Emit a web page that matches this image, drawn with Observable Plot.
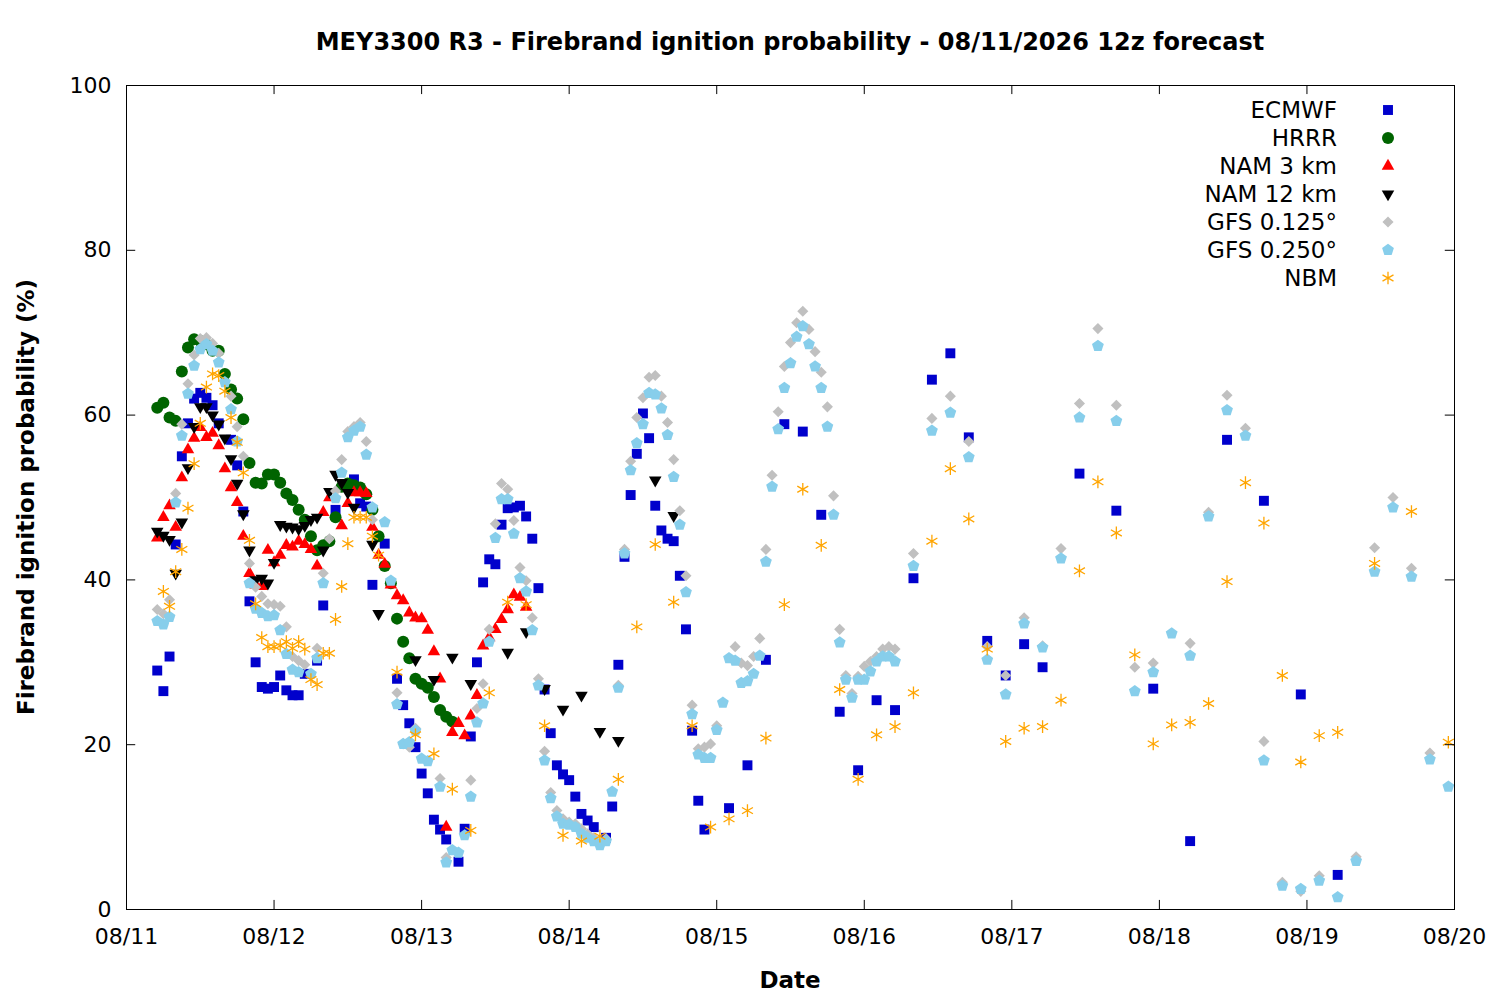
<!DOCTYPE html>
<html><head><meta charset="utf-8">
<script src="https://cdn.jsdelivr.net/npm/d3@7"></script>
<script src="https://cdn.jsdelivr.net/npm/@observablehq/plot@0.6"></script>
<style>
body{margin:0;background:#fff;font-family:"DejaVu Sans",sans-serif;}
#title{position:absolute;left:0;top:28px;width:1580px;text-align:center;font-weight:bold;font-size:24px;}
#chart{position:absolute;left:0;top:60px;}
</style></head><body>
<div id="title">MEY3300 R3 - Firebrand ignition probability - 08/11/2026 12z forecast</div>
<div id="chart"></div>
<script>
// hours after 08/11 00z, value (%)
const ECMWF = [[5,29],[6,26.5],[7,30.7],[8,44.3],[9,55],[10,59],[11,62],[12,62.7],[13,62.1],[14,61.2],[15,59],[17,57],[18,53.9],[19,48.3],[20,37.4],[21,30],[22,27],[23,26.8],[24,27],[25,28.4],[26,26.6],[27,26],[28,26],[29,28.6],[31,30.2],[32,36.9],[34,48.5],[37,52.2],[38,49.3],[39,48.9],[40,39.4],[42,44.4],[44,28],[45,24.8],[46,22.6],[47,19.7],[48,16.5],[49,14.1],[50,10.9],[51,9.7],[52,8.5],[54,5.8],[55,9.8],[56,21],[57,30],[58,39.7],[59,42.5],[60,41.9],[61,46.7],[62,48.7],[63,48.8],[64,49],[65,47.7],[66,45],[67,39],[68,26.7],[69,21.4],[70,17.5],[71,16.4],[72,15.7],[73,13.7],[74,11.6],[75,10.8],[76,10],[78,8.7],[79,12.5],[80,29.7],[81,42.8],[82,50.3],[83,55.3],[84,60.2],[85,57.2],[86,49],[87,46],[88,45],[89,44.7],[90,40.5],[91,34],[92,21.7],[93,13.2],[94,9.7],[98,12.3],[101,17.5],[104,30.3],[107,58.9],[110,58],[113,47.9],[116,24],[119,16.9],[122,25.4],[125,24.2],[128,40.2],[131,64.3],[134,67.5],[137,57.3],[140,32.6],[143,28.4],[146,32.2],[149,29.4],[155,52.9],[161,48.4],[167,26.8],[173,8.3],[179,57],[185,49.6],[191,26.1],[197,4.2]];
const HRRR = [[5,60.9],[6,61.5],[7,59.7],[8,59.3],[9,65.3],[10,68.2],[11,69.2],[12,69],[13,68.6],[14,67.8],[15,67.8],[16,65],[17,63.1],[18,62],[19,59.5],[20,54.2],[21,51.8],[22,51.7],[23,52.8],[24,52.8],[25,51.8],[26,50.5],[27,49.7],[28,48.5],[29,47.3],[30,45.3],[31,43.6],[32,44.2],[33,44.7],[34,47.6],[35,51.3],[36,51.7],[37,51.5],[38,51.2],[39,50.4],[40,48.5],[41,45.3],[42,41.7],[43,39.6],[44,35.3],[45,32.5],[46,30.5],[47,28],[48,27.4],[49,26.9],[50,25.8],[51,24.2],[52,23.4],[53,22.8]];
const NAM3 = [[5,45.1],[6,47.6],[7,49],[8,46.4],[9,52.4],[10,55.8],[11,57.2],[12,58.5],[13,57.3],[14,57.8],[15,56.3],[16,53.5],[17,51.2],[18,49.4],[19,45.3],[20,40.8],[21,39.4],[22,39.2],[23,43.6],[24,42.1],[25,43],[26,44.2],[27,44],[28,44.7],[29,44.3],[30,43.7],[31,41.7],[32,48.2],[33,50],[35,46.6],[36,49.3],[37,50.6],[38,50.6],[39,50.5],[40,46.4],[41,43],[42,41.9],[43,39.4],[44,38.1],[45,37.5],[46,36],[47,35.4],[48,35.3],[49,33.9],[50,31.3],[51,28],[52,10],[53,21.5],[54,22.6],[55,21.1],[56,23.5],[57,26],[58,32],[59,33],[60,34],[61,35.2],[62,36.4],[63,38.2],[64,37.9],[65,36.7]];
const NAM12 = [[5,45.9],[6,45.4],[7,44.9],[8,40.8],[9,47],[10,53.6],[11,58.6],[12,61],[13,61],[14,60],[15,58.9],[16,57.2],[17,54.7],[18,51.7],[19,48],[20,43.6],[21,40],[22,40.2],[23,39.6],[24,42.1],[25,46.7],[26,46.5],[27,46.4],[28,46.2],[29,46.6],[30,47.3],[31,47.6],[32,43.6],[33,50.7],[34,52.8],[35,51.8],[36,50.6],[37,48.8],[40,44.3],[41,35.9],[47,30.3],[50,27.9],[53,30.6],[56,27.4],[62,31.2],[65,33.7],[68,26.8],[71,24.3],[74,26],[77,21.6],[80,20.5],[86,52.1],[89,47.8]];
const GFS0125 = [[5,36.4],[6,35.9],[7,37.6],[8,50.5],[9,58.9],[10,63.8],[11,67.3],[12,69.3],[13,69.4],[14,68.7],[15,67.5],[17,62.3],[18,58.6],[19,55],[20,42],[21,39.1],[22,38],[23,37.1],[24,37],[25,36.8],[26,34.3],[27,30.7],[28,30.2],[29,29.7],[31,31.7],[32,40.8],[33,45],[34,50.8],[35,54.6],[36,58],[37,58.6],[38,59.1],[39,56.8],[40,47.3],[44,26.3],[45,20.1],[46,19.7],[47,22],[51,15.9],[52,6.3],[56,15.7],[57,24.4],[58,27.4],[59,34],[60,46.8],[61,51.7],[62,51],[63,47.2],[64,41.5],[65,39.9],[66,35.4],[67,28],[68,19.2],[69,14.2],[70,12],[71,11],[72,10.6],[73,10.4],[74,9.8],[75,9.2],[76,8.7],[77,8],[78,8.6],[80,27.2],[81,43.7],[82,54.4],[83,59.7],[84,62.1],[85,64.6],[86,64.8],[87,62.3],[88,59.1],[89,54.6],[90,48.4],[91,40.5],[92,24.8],[93,19.5],[94,19.7],[95,20.1],[96,22.3],[99,31.9],[100,29.9],[101,29.6],[102,30.7],[103,32.9],[104,43.7],[105,52.7],[106,60.4],[107,65.9],[108,68.8],[109,71.2],[110,72.6],[111,70.4],[112,67.7],[113,65.2],[114,61],[115,50.2],[116,34],[117,28.4],[118,26.2],[119,28.3],[120,29.5],[121,30.1],[122,30.7],[123,31.6],[124,31.9],[125,31.6],[128,43.2],[131,59.6],[134,62.3],[137,56.8],[140,31.9],[143,28.4],[146,35.4],[149,32],[152,43.8],[155,61.4],[158,70.5],[161,61.2],[164,29.4],[167,29.9],[173,32.3],[176,48.2],[179,62.4],[182,58.4],[185,20.4],[188,3.3],[191,2.2],[194,4.1],[200,6.4],[203,43.9],[206,50],[209,41.4],[212,19]];
const GFS0250 = [[5,35],[6,34.6],[7,35.5],[8,49.4],[9,57.5],[10,62.6],[11,66],[12,68],[13,68.6],[14,67.8],[15,66.4],[16,64],[17,60.7],[18,56.8],[20,39.6],[21,36.5],[22,36],[23,35.6],[24,35.7],[25,33.9],[26,31],[27,29.1],[28,28.8],[30,28.6],[31,30.5],[32,39.6],[34,49.9],[35,53],[36,57.3],[37,58.1],[38,58.6],[39,55.2],[40,48.8],[42,47],[43,39.9],[44,24.9],[45,20.1],[46,20.3],[47,21.7],[48,18.3],[49,18],[51,14.9],[52,5.7],[53,7.2],[54,6.9],[55,9],[56,13.7],[57,22.7],[58,25],[59,32.5],[60,45.1],[61,49.8],[62,49.8],[63,45.6],[64,40.2],[65,38.6],[66,33.9],[67,27.2],[68,18.1],[69,13.5],[70,11.3],[71,10.4],[72,10.3],[73,10],[74,9.2],[75,8.7],[76,8.3],[77,7.8],[78,8.3],[79,14.3],[80,26.9],[81,43.2],[82,53.3],[83,56.6],[84,58.9],[85,62.7],[86,62.5],[87,60.8],[88,57.6],[89,52.5],[90,46.7],[91,38.5],[92,23.7],[93,18.8],[94,18.4],[95,18.4],[96,21.8],[97,25.1],[98,30.5],[99,30.2],[100,27.5],[101,27.7],[102,28.6],[103,30.8],[104,42.2],[105,51.3],[106,58.3],[107,63.3],[108,66.3],[109,69.5],[110,70.8],[111,68.6],[112,65.9],[113,63.3],[114,58.6],[115,47.9],[116,32.4],[117,27.9],[118,25.7],[119,27.9],[120,27.9],[121,28.9],[122,30.1],[123,30.7],[124,30.7],[125,30.1],[128,41.7],[131,58.1],[134,60.3],[137,54.9],[140,30.3],[143,26.1],[146,34.7],[149,31.8],[152,42.6],[155,59.7],[158,68.4],[161,59.3],[164,26.5],[167,28.8],[170,33.5],[173,30.8],[176,47.7],[179,60.6],[182,57.5],[185,18.1],[188,2.9],[191,2.5],[194,3.5],[197,1.5],[200,5.9],[203,41],[206,48.8],[209,40.4],[212,18.2],[215,14.9]];
const NBM = [[6,38.6],[7,36.8],[8,41],[9,43.7],[10,48.7],[11,54.1],[12,59],[13,63.4],[14,65],[15,64.8],[16,62.9],[17,59.7],[18,56.7],[19,53],[20,44.8],[21,37.1],[22,33],[23,31.9],[24,31.9],[25,32],[26,32.5],[27,31.7],[28,32.5],[29,31.6],[30,27.9],[31,27.3],[32,31.1],[33,31.1],[34,35.2],[35,39.2],[36,44.4],[37,47.6],[38,47.6],[39,47.6],[40,45.3],[41,43],[44,28.8],[47,21.2],[50,18.9],[53,14.6],[56,9.6],[59,26.3],[62,37.3],[65,37],[68,22.3],[71,9],[74,8.3],[77,8.9],[80,15.8],[83,34.3],[86,44.3],[89,37.3],[92,22.3],[95,10],[98,11],[101,12],[104,20.8],[107,37],[110,51],[113,44.2],[116,26.7],[119,15.8],[122,21.2],[125,22.2],[128,26.3],[131,44.7],[134,53.5],[137,47.4],[140,31.6],[143,20.4],[146,22],[149,22.2],[152,25.4],[155,41.1],[158,51.9],[161,45.7],[164,30.9],[167,20.1],[170,22.4],[173,22.7],[176,25],[179,39.8],[182,51.8],[185,46.9],[188,28.4],[191,17.9],[194,21.1],[197,21.5],[203,42],[209,48.3],[215,20.3]];

const yTicks = [0,20,40,60,80,100];
const dayTicks = ["08/11","08/12","08/13","08/14","08/15","08/16","08/17","08/18","08/19","08/20"];

const base = Date.UTC(2026,7,11);
const HOUR = 3600e3;
const t = h => new Date(base + h*HOUR);
const days = dayTicks.map((_,i)=>t(24*i));
const end = t(216);

const triDown = {draw(c,s){const r=Math.sqrt(s/Math.PI)*1.25;c.moveTo(0,r);c.lineTo(-0.866*r,-0.5*r);c.lineTo(0.866*r,-0.5*r);c.closePath();}};
const triUp = {draw(c,s){const r=Math.sqrt(s/Math.PI)*1.25;c.moveTo(0,-r);c.lineTo(-0.866*r,0.5*r);c.lineTo(0.866*r,0.5*r);c.closePath();}};
const pent = {draw(c,s){const r=Math.sqrt(s/Math.PI)*1.15;for(let k=0;k<5;k++){const a=-Math.PI/2+k*2*Math.PI/5;const x=r*Math.cos(a),y=r*Math.sin(a);k?c.lineTo(x,y):c.moveTo(x,y);}c.closePath();}};

const series = [
 {name:"ECMWF", data:ECMWF, symbol:"square", color:"#0000cc", r:5.6},
 {name:"HRRR", data:HRRR, symbol:"circle", color:"#006400", r:6},
 {name:"NAM 3 km", data:NAM3, symbol:triUp, color:"#ff0000", r:5.8},
 {name:"NAM 12 km", data:NAM12, symbol:triDown, color:"#000000", r:5.8},
 {name:"GFS 0.125°", data:GFS0125, symbol:"diamond2", color:"#c0c0c0", r:5},
 {name:"GFS 0.250°", data:GFS0250, symbol:pent, color:"#87ceeb", r:5.4},
 {name:"NBM", data:NBM, symbol:"asterisk", color:"#ffa500", r:6, stroke:true}
];

const marks = [];
for (const s of series) {
  marks.push(Plot.dot(s.data, {x:d=>t(d[0]), y:d=>d[1], symbol:()=>s.symbol, r:s.r,
    ...(s.stroke ? {stroke:s.color, fill:"none", strokeWidth:1.3} : {fill:s.color, stroke:"none"})}));
}
const tl = 1.1, th = 1.5*HOUR;
marks.push(
  Plot.ruleX(days.slice(1,-1), {x:d=>d, y1:0, y2:tl, stroke:"black"}),
  Plot.ruleX(days.slice(1,-1), {x:d=>d, y1:100-tl, y2:100, stroke:"black"}),
  Plot.ruleY(yTicks.slice(1,-1), {y:d=>d, x1:t(0), x2:new Date(base+th), stroke:"black"}),
  Plot.ruleY(yTicks.slice(1,-1), {y:d=>d, x1:new Date(+end-th), x2:end, stroke:"black"}),
  Plot.frame({stroke:"black"}),
  Plot.axisX({ticks:days, tickFormat:(d,i)=>dayTicks[i], tickSize:0, tickPadding:19, label:null}),
  Plot.axisY({ticks:yTicks, tickSize:0, tickPadding:15, label:null})
);

const chart = Plot.plot({
  width:1500, height:940,
  marginLeft:126, marginRight:46, marginTop:25, marginBottom:91,
  style:{fontFamily:"DejaVu Sans", fontSize:"22px", background:"white", color:"black"},
  x:{type:"utc", domain:[t(0), end]},
  y:{domain:[0,100]},
  marks
});
document.getElementById("chart").appendChild(chart);

const svg = d3.select(chart);
svg.append("text").attr("x",790).attr("y",928).attr("text-anchor","middle")
  .attr("font-weight","bold").attr("font-size",23).text("Date");
svg.append("text").attr("transform","translate(34,437) rotate(-90)").attr("text-anchor","middle")
  .attr("font-weight","bold").attr("font-size",23).text("Firebrand ignition probability (%)");

const leg = svg.append("g");
series.forEach((s,i)=>{
  const y = 50 + 28*i;
  leg.append("text").attr("x",1337).attr("y",y).attr("dy","0.35em").attr("text-anchor","end")
    .attr("font-size",23).text(s.name);
  const sym = typeof s.symbol==="string" ? {square:d3.symbolSquare,circle:d3.symbolCircle,diamond2:d3.symbolDiamond2,asterisk:d3.symbolAsterisk}[s.symbol] : s.symbol;
  const p = d3.symbol(sym, Math.PI*s.r*s.r)();
  const el = leg.append("path").attr("d",p).attr("transform",`translate(1388,${y})`);
  if (s.stroke) el.attr("stroke",s.color).attr("fill","none").attr("stroke-width",1.3);
  else el.attr("fill",s.color);
});
</script>
</body></html>
